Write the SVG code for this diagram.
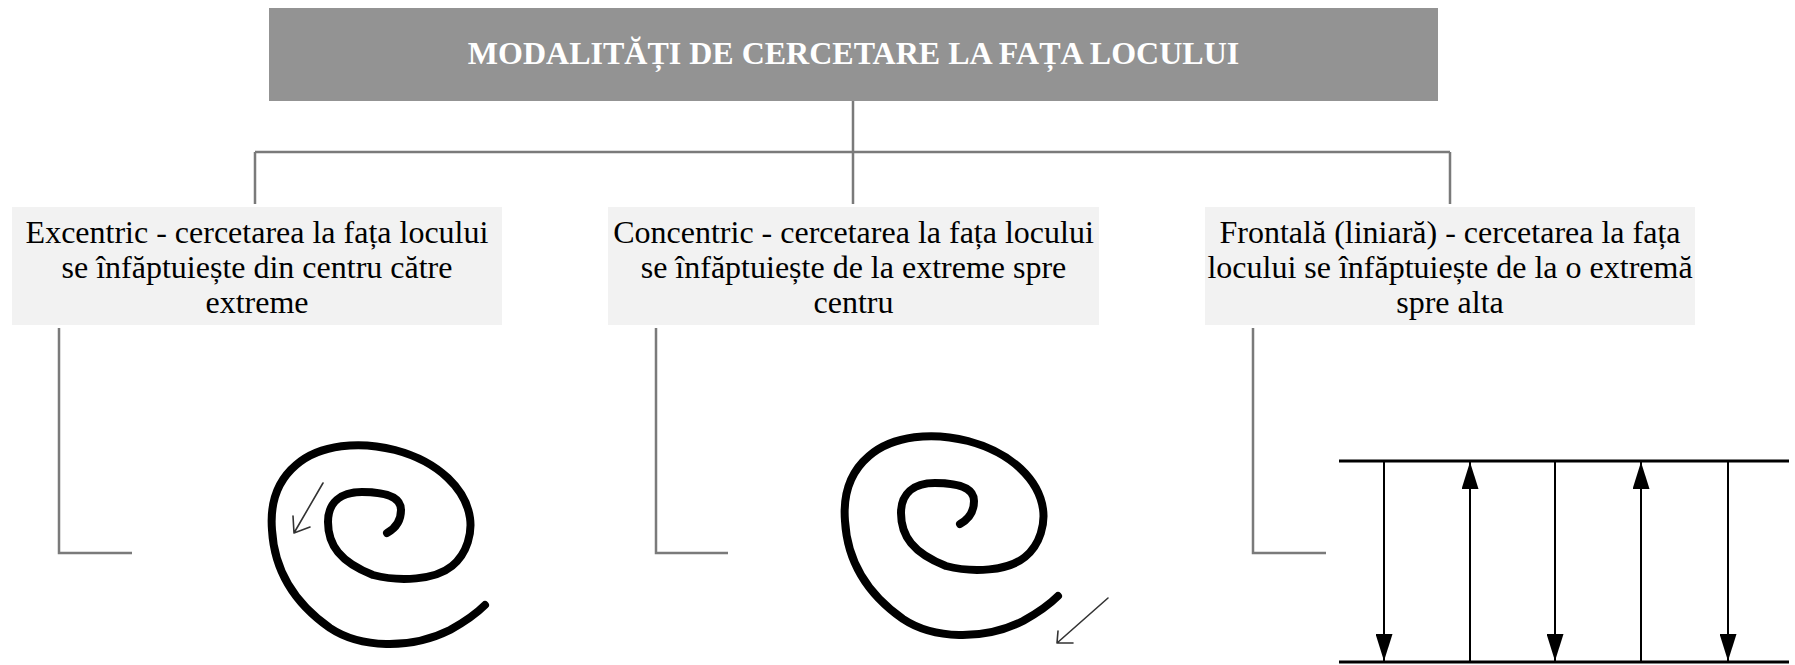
<svg xmlns="http://www.w3.org/2000/svg" width="1795" height="665" viewBox="0 0 1795 665">
<defs>
<style>
.title{font-family:"Liberation Serif","Times New Roman",serif;font-weight:bold;font-size:32px;fill:#ffffff;text-anchor:middle}
.lbl{font-family:"Liberation Serif","Times New Roman",serif;font-size:32px;fill:#000000;text-anchor:middle}
.box{fill:#f2f2f2}
.conn{fill:none;stroke:#7a7a7a;stroke-width:2.5}
.spiral{fill:none;stroke:#000;stroke-width:8;stroke-linecap:round;stroke-linejoin:round}
.thin{fill:none;stroke:#333;stroke-width:1.6;stroke-linecap:round}
.rail{stroke:#000;stroke-width:3}
.vert{stroke:#000;stroke-width:2}
</style>
<marker id="head" markerUnits="userSpaceOnUse" markerWidth="27" markerHeight="17" refX="27" refY="8.5" orient="auto">
<path d="M0,0 L27,8.5 L0,17 z" fill="#000"/>
</marker>
<path id="spiralPath" d="M 387 533 C 396 528, 401 520, 401 510 C 401 498, 388 492, 362 492 C 340 492, 328 503, 328 522 C 328 545, 340 562, 373 575 C 400 582, 435 580, 452 566 C 468 553, 472 532, 470 518 C 466 490, 440 462, 395 450 C 360 441, 320 444, 296 465 C 276 482, 270 505, 272 530 C 274 565, 290 600, 330 628 C 360 648, 410 650, 450 630 C 468 620, 478 612, 485 605"/>
</defs>
<rect width="1795" height="665" fill="#ffffff"/>

<g id="connectors">
<path class="conn" d="M853 101 V152 M255 152 H1450 M255 152 V204 M853 152 V204 M1450 152 V204"/>
<path class="conn" d="M59 328 V553 H132"/>
<path class="conn" d="M656 328 V553 H728"/>
<path class="conn" d="M1253 328 V553 H1326"/>
</g>

<g id="title">
<rect x="269" y="8" width="1169" height="93" fill="#939393"/>
<text class="title" x="853.5" y="64">MODALITĂȚI DE CERCETARE LA FAȚA LOCULUI</text>
</g>

<g id="excentric">
<rect class="box" x="12" y="207" width="490" height="118"/>
<text class="lbl" x="257" y="243">Excentric - cercetarea la fața locului</text>
<text class="lbl" x="257" y="278">se înfăptuiește din centru către</text>
<text class="lbl" x="257" y="313">extreme</text>
</g>

<g id="concentric">
<rect class="box" x="608" y="207" width="491" height="118"/>
<text class="lbl" x="853.5" y="243">Concentric - cercetarea la fața locului</text>
<text class="lbl" x="853.5" y="278">se înfăptuiește de la extreme spre</text>
<text class="lbl" x="853.5" y="313">centru</text>
</g>

<g id="frontala">
<rect class="box" x="1205" y="207" width="490" height="118"/>
<text class="lbl" x="1450" y="243">Frontală (liniară) - cercetarea la fața</text>
<text class="lbl" x="1450" y="278">locului se înfăptuiește de la o extremă</text>
<text class="lbl" x="1450" y="313">spre alta</text>
</g>

<g id="spiral-excentric">
<use href="#spiralPath" class="spiral"/>
<path class="thin" d="M323 483 L294 533 M294 533 L293 516 M294 533 L310 527"/>
</g>

<g id="spiral-concentric">
<use href="#spiralPath" class="spiral" transform="translate(573,-9)"/>
<path class="thin" d="M1108 598 L1057 643 M1057 643 L1058 631 M1057 643 L1073 643"/>
</g>

<g id="frontal-diagram">
<line class="rail" x1="1339" y1="461" x2="1789" y2="461"/>
<line class="rail" x1="1339" y1="662" x2="1789" y2="662"/>
<line class="vert" x1="1384" y1="461" x2="1384" y2="661" marker-end="url(#head)"/>
<line class="vert" x1="1470" y1="662" x2="1470" y2="462" marker-end="url(#head)"/>
<line class="vert" x1="1555" y1="461" x2="1555" y2="661" marker-end="url(#head)"/>
<line class="vert" x1="1641" y1="662" x2="1641" y2="462" marker-end="url(#head)"/>
<line class="vert" x1="1728" y1="461" x2="1728" y2="661" marker-end="url(#head)"/>
</g>
</svg>
